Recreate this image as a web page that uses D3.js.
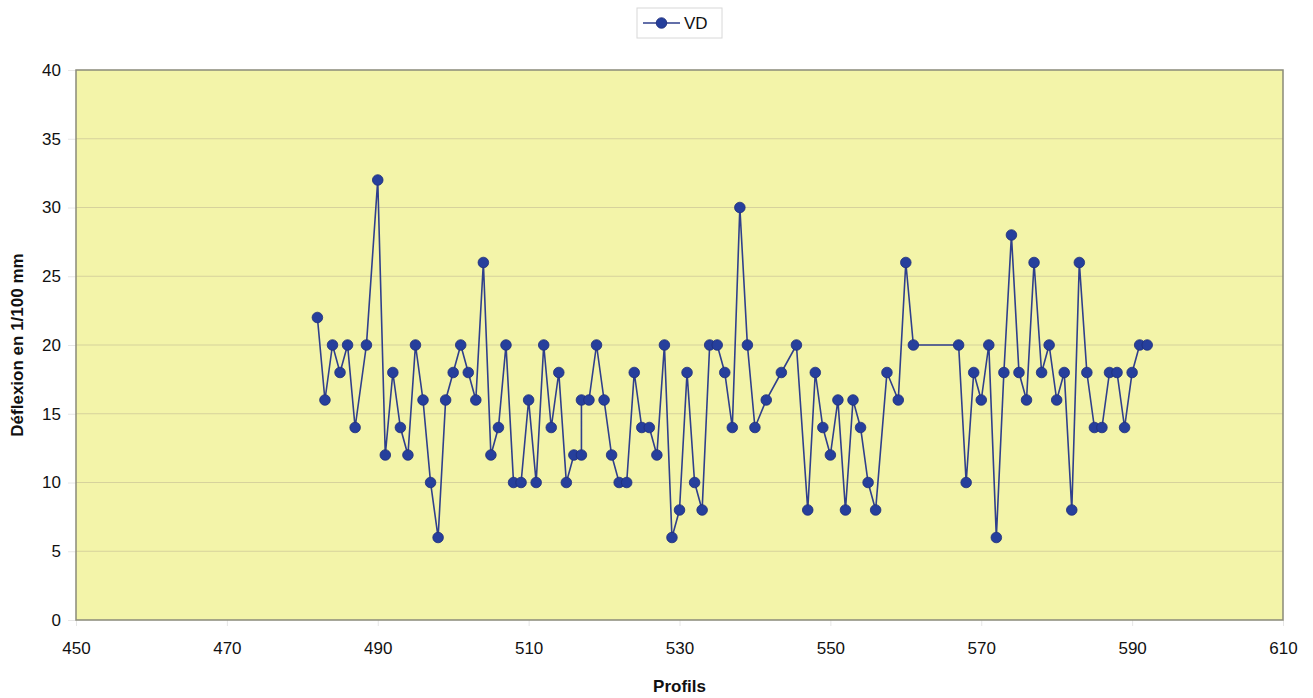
<!DOCTYPE html>
<html>
<head>
<meta charset="utf-8">
<script src="https://cdn.jsdelivr.net/npm/d3@7"></script>
<style>
  html, body { margin: 0; padding: 0; background: #ffffff; }
  svg { display: block; font-family: "Liberation Sans", Arial, sans-serif; }
</style>
</head>
<body>
<svg id="chart" width="1313" height="698"></svg>
<script>
// ---- Data ----
const seriesName = "VD";
const profils = [482, 483, 484, 485, 486, 487, 488.5, 490, 491, 492, 493, 494, 495, 496, 497, 498, 499, 500,
  501, 502, 503, 504, 505, 506, 507, 508, 509, 510, 511, 512, 513, 514, 515, 516, 517, 517, 518, 519, 520,
  521, 522, 523, 524, 525, 526, 527, 528, 529, 530, 531, 532, 533, 534, 535, 536, 537, 538, 539, 540,
  541.5, 543.5, 545.5, 547, 548, 549, 550, 551, 552, 553, 554, 555, 556, 557.5, 559, 560, 561,
  567, 568, 569, 570, 571, 572, 573, 574, 575, 576, 577, 578, 579, 580, 581, 582, 583, 584, 585, 586,
  587, 588, 589, 590, 591, 592];
const vdValues = [22, 16, 20, 18, 20, 14, 20, 32, 12, 18, 14, 12, 20, 16, 10, 6, 16, 18,
  20, 18, 16, 26, 12, 14, 20, 10, 10, 16, 10, 20, 14, 18, 10, 12, 12, 16, 16, 20, 16,
  12, 10, 10, 18, 14, 14, 12, 20, 6, 8, 18, 10, 8, 20, 20, 18, 14, 30, 20, 14,
  16, 18, 20, 8, 18, 14, 12, 16, 8, 16, 14, 10, 8, 18, 16, 26, 20,
  20, 10, 18, 16, 20, 6, 18, 28, 18, 16, 26, 18, 20, 16, 18, 8, 26, 18, 14, 14,
  18, 18, 14, 18, 20, 20];
const xTicks = [450, 470, 490, 510, 530, 550, 570, 590, 610];
const yTicks = [0, 5, 10, 15, 20, 25, 30, 35, 40];
const xLabel = "Profils";
const yLabel = "Déflexion en 1/100 mm";

const data = profils.map((p, i) => ({ x: p, y: vdValues[i] }));

// ---- Layout ----
const svg = d3.select("#chart");
const plot = { left: 76, top: 70, right: 1283, bottom: 620 };

const x = d3.scaleLinear().domain([450, 610]).range([plot.left, plot.right]);
const y = d3.scaleLinear().domain([0, 40]).range([plot.bottom, plot.top]);

// plot background
svg.append("rect")
  .attr("x", plot.left).attr("y", plot.top)
  .attr("width", plot.right - plot.left).attr("height", plot.bottom - plot.top)
  .attr("fill", "#f3f4a9");

// gridlines
svg.append("g").selectAll("line")
  .data(yTicks.filter(d => d > 0 && d < 40))
  .join("line")
  .attr("x1", plot.left).attr("x2", plot.right)
  .attr("y1", d => y(d)).attr("y2", d => y(d))
  .attr("stroke", "#d6d29c").attr("stroke-width", 1.2);

// axes
const xAxis = d3.axisBottom(x).tickValues(xTicks).tickSize(6).tickPadding(16).tickFormat(d3.format("d"));
const yAxis = d3.axisLeft(y).tickValues(yTicks).tickSize(8).tickPadding(7).tickFormat(d3.format("d"));

const gx = svg.append("g").attr("transform", `translate(0,${plot.bottom})`).call(xAxis);
const gy = svg.append("g").attr("transform", `translate(${plot.left},0)`).call(yAxis);
[gx, gy].forEach(g => {
  g.select(".domain").remove();
  g.selectAll(".tick line").attr("stroke", "#e6e6e6");
  g.selectAll(".tick text").attr("fill", "#111").style("font-size", "17px")
    .style("font-family", "'Liberation Sans', Arial, sans-serif");
});

// plot border
svg.append("rect")
  .attr("x", plot.left).attr("y", plot.top)
  .attr("width", plot.right - plot.left).attr("height", plot.bottom - plot.top)
  .attr("fill", "none").attr("stroke", "#8a8a7a").attr("stroke-width", 1.5);

// line
const line = d3.line().x(d => x(d.x)).y(d => y(d.y));
svg.append("path").datum(data)
  .attr("d", line)
  .attr("fill", "none")
  .attr("stroke", "#2f3f8c")
  .attr("stroke-width", 1.6);

// markers
svg.append("g").selectAll("circle")
  .data(data).join("circle")
  .attr("cx", d => x(d.x)).attr("cy", d => y(d.y))
  .attr("r", 5.3)
  .attr("fill", "#263f9c")
  .attr("stroke", "#1f2f7a").attr("stroke-width", 0.8);

// axis titles
svg.append("text")
  .attr("x", (plot.left + plot.right) / 2).attr("y", 692)
  .attr("text-anchor", "middle")
  .style("font-size", "17px").style("font-weight", "bold")
  .attr("fill", "#111")
  .text(xLabel);

svg.append("text")
  .attr("transform", `translate(23,${(plot.top + plot.bottom) / 2}) rotate(-90)`)
  .attr("text-anchor", "middle")
  .style("font-size", "17px").style("font-weight", "bold")
  .attr("fill", "#111")
  .text(yLabel);

// legend
const lg = svg.append("g").attr("transform", "translate(637,8)");
lg.append("rect").attr("width", 85).attr("height", 30)
  .attr("fill", "#fff").attr("stroke", "#d8d8d8").attr("stroke-width", 1);
lg.append("line").attr("x1", 6).attr("x2", 43).attr("y1", 15).attr("y2", 15)
  .attr("stroke", "#2f3f8c").attr("stroke-width", 1.6);
lg.append("circle").attr("cx", 24.5).attr("cy", 15).attr("r", 5.3)
  .attr("fill", "#263f9c").attr("stroke", "#1f2f7a").attr("stroke-width", 0.8);
lg.append("text").attr("x", 47).attr("y", 21)
  .style("font-size", "17px").attr("fill", "#111").text(seriesName);
</script>
</body>
</html>
